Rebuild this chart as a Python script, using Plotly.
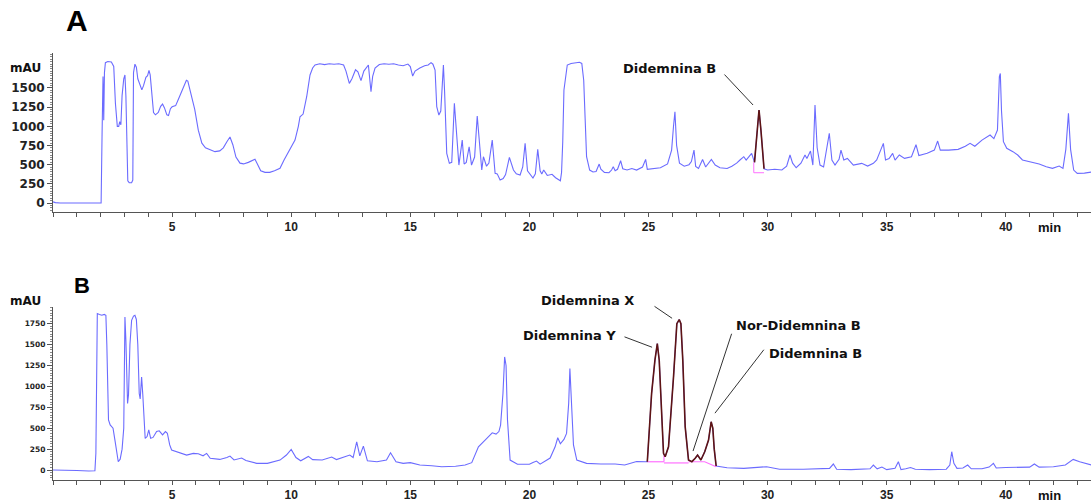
import plotly.graph_objects as go

# ---------------- data: chromatogram A (time [min], signal [mAU]) ----------------
time_A = [0, 0.1, 0.3, 2.0, 2.02, 2.06, 2.1, 2.13, 2.16, 2.2, 2.3, 2.45, 2.55, 2.62, 2.7, 2.76, 2.8, 2.85,
          2.9, 2.97, 3.02, 3.06, 3.1, 3.14, 3.2, 3.3, 3.35, 3.38, 3.44, 3.5, 3.56, 3.65, 3.73, 3.8, 3.9,
          3.97, 4.03, 4.08, 4.15, 4.22, 4.3, 4.42, 4.52, 4.6, 4.68, 4.78, 4.85, 4.93, 5.0, 5.15, 5.3,
          5.45, 5.6, 5.66, 5.8, 5.95, 6.1, 6.25, 6.4, 6.6, 6.8, 7.0, 7.15, 7.3, 7.43, 7.55, 7.68, 7.85,
          8.0, 8.2, 8.35, 8.48, 8.58, 8.72, 8.9, 9.1, 9.3, 9.53, 9.7, 9.81, 10.0, 10.16, 10.3, 10.37,
          10.5, 10.65, 10.79, 10.9, 11.0, 11.2, 11.4, 11.6, 11.8, 12.0, 12.2, 12.3, 12.44, 12.55, 12.7,
          12.8, 12.93, 13.05, 13.24, 13.3, 13.35, 13.42, 13.52, 13.7, 13.9, 14.1, 14.3, 14.5, 14.7,
          14.9, 15.0, 15.1, 15.2, 15.4, 15.6, 15.75, 15.87, 15.95, 16.04, 16.11, 16.2, 16.28, 16.34,
          16.39, 16.44, 16.53, 16.64, 16.74, 16.85, 16.94, 17.04, 17.18, 17.26, 17.35, 17.47, 17.57,
          17.7, 17.81, 17.93, 18.0, 18.07, 18.2, 18.3, 18.44, 18.56, 18.65, 18.77, 18.9, 19.0, 19.16,
          19.33, 19.45, 19.61, 19.72, 19.82, 19.92, 20.15, 20.25, 20.35, 20.45, 20.52, 20.6, 20.75,
          20.95, 21.1, 21.3, 21.35, 21.4, 21.45, 21.59, 21.75, 22.0, 22.1, 22.2, 22.28, 22.34, 22.4,
          22.53, 22.67, 22.8, 22.93, 23.0, 23.15, 23.34, 23.45, 23.52, 23.6, 23.7, 23.83, 23.92, 24.1,
          24.3, 24.5, 24.75, 24.88, 24.95, 25.2, 25.5, 25.8, 25.97, 26.05, 26.11, 26.18, 26.3, 26.5,
          26.7, 26.8, 26.91, 26.98, 27.1, 27.27, 27.4, 27.64, 27.8, 28.0, 28.3, 28.5, 28.7, 28.84,
          29.0, 29.1, 29.33, 29.45, 29.55, 29.64, 29.72, 29.85, 30.0, 30.3, 30.6, 30.8, 30.94, 31.05,
          31.2, 31.4, 31.57, 31.65, 31.8, 31.9, 31.99, 32.08, 32.2, 32.35, 32.59, 32.7, 32.83, 33.0,
          33.08, 33.2, 33.35, 33.6, 33.95, 34.2, 34.44, 34.58, 34.86, 34.95, 35.1, 35.25, 35.35, 35.53,
          35.75, 36.04, 36.23, 36.35, 36.7, 37.0, 37.14, 37.25, 37.6, 38.0, 38.3, 38.5, 38.7, 39.0,
          39.34, 39.5, 39.65, 39.73, 39.77, 39.82, 39.9, 40.04, 40.3, 40.5, 40.7, 41.0, 41.4, 41.7,
          41.96, 42.24, 42.4, 42.52, 42.63, 42.72, 42.85, 43.0, 43.3, 43.6]
signal_A = [15, 5, 0, 0, 0, 900, 1650, 1080, 1700, 1830, 1845, 1840, 1780, 1300, 1000, 1000, 1060, 1020,
            1400, 1620, 1670, 1400, 600, 290, 265, 265, 300, 1700, 1810, 1770, 1620, 1540, 1475, 1530, 1640,
            1660, 1730, 1670, 1400, 1180, 1150, 1180, 1260, 1290, 1240, 1150, 1140, 1230, 1255, 1270, 1380,
            1480, 1600, 1590, 1420, 1220, 950, 780, 720, 690, 670, 680, 720, 800, 860, 760, 600, 520,
            510, 530, 555, 570, 510, 420, 400, 400, 420, 452, 560, 626, 720, 821, 1000, 1125,
            1160, 1386, 1669, 1760, 1800, 1815, 1805, 1815, 1810, 1815, 1800, 1720, 1560, 1620, 1738,
            1710, 1595, 1720, 1800, 1650, 1451, 1650, 1760, 1805, 1815, 1810, 1815, 1800, 1790,
            1812, 1780, 1656, 1720, 1760, 1790, 1800, 1830, 1810, 1734, 1256, 1147, 1200, 1550,
            1799, 1450, 648, 517, 530, 1300, 864, 495, 821, 508, 530, 734, 495,
            600, 1134, 604, 430, 604, 480, 520, 821, 387, 380, 300, 320, 370, 596,
            430, 380, 365, 470, 778, 420, 326, 380, 700, 420, 378, 430, 360,
            375, 330, 290, 400, 800, 1473, 1799, 1820, 1830, 1835, 1820, 1600, 1100, 604,
            430, 404, 410, 508, 440, 400, 395, 430, 473, 420, 440, 552, 447, 430,
            450, 430, 470, 569, 440, 445, 460, 510, 691, 1000, 1190, 752, 520, 480,
            500, 540, 691, 478, 450, 567, 470, 569, 495, 460, 450, 480, 520, 561,
            604, 560, 648, 530, 850, 1213, 950, 447, 430, 440, 430, 480, 626, 520,
            460, 520, 626, 580, 678, 495, 1278, 720, 495, 470, 909, 560, 495, 570,
            691, 561, 582, 495, 517, 482, 517, 561, 778, 561, 580, 648, 560, 626,
            582, 604, 760, 620, 650, 690, 808, 690, 690, 700, 740, 778, 740, 820,
            887, 840, 951, 1647, 1690, 1200, 800, 713, 670, 626, 561, 540, 508, 473,
            452, 482, 452, 700, 1169, 700, 430, 387, 390, 404]

# ---------------- data: chromatogram B ----------------
time_B = [0, 0.5, 1.0, 1.5, 1.76, 1.8, 1.83, 1.86, 1.95, 2.05, 2.15, 2.22, 2.26, 2.29, 2.33, 2.4, 2.46,
          2.52, 2.6, 2.67, 2.74, 2.82, 2.9, 2.97, 3.0, 3.02, 3.06, 3.1, 3.13, 3.17, 3.23, 3.3, 3.38,
          3.44, 3.5, 3.56, 3.62, 3.66, 3.72, 3.77, 3.87, 3.95, 4.02, 4.1, 4.2, 4.35, 4.46, 4.6, 4.72,
          4.8, 4.9, 4.98, 5.2, 5.4, 5.61, 5.89, 6.1, 6.3, 6.45, 6.6, 7.0, 7.3, 7.43, 7.6, 7.92, 8.1,
          8.55, 9.0, 9.53, 9.8, 10.0, 10.2, 10.4, 10.72, 10.9, 11.3, 11.7, 11.9, 12.2, 12.46, 12.6,
          12.75, 12.88, 13.03, 13.2, 13.6, 14.0, 14.17, 14.4, 14.7, 15.0, 15.4, 15.9, 16.32, 16.9,
          17.3, 17.58, 17.86, 18.14, 18.3, 18.44, 18.6, 18.72, 18.79, 18.89, 18.96, 19.02, 19.08,
          19.19, 19.5, 20.0, 20.15, 20.3, 20.45, 20.87, 21.08, 21.19, 21.3, 21.45, 21.56, 21.65, 21.7,
          21.76, 21.85, 21.99, 22.4, 23.0, 23.6, 24.0, 24.5, 24.95, 25.05, 25.13, 25.27, 25.37, 25.45,
          25.52, 25.63, 25.7, 25.84, 26.05, 26.19, 26.29, 26.36, 26.44, 26.54, 26.68, 26.82, 26.96,
          27.06, 27.2, 27.36, 27.52, 27.63, 27.7, 27.76, 27.84, 28.3, 29.0, 29.96, 30.5, 31.5, 32.6,
          32.76, 32.9, 33.5, 34.3, 34.44, 34.6, 34.8, 35.0, 35.35, 35.49, 35.6, 35.8, 36.0, 36.2, 36.8,
          37.5, 37.65, 37.73, 37.82, 37.95, 38.2, 38.4, 38.55, 39.0, 39.3, 39.48, 39.6, 40.0, 40.5,
          41.0, 41.2, 41.4, 42.0, 42.5, 42.83, 43.1, 43.6]
signal_B = [0, 0, -5, -12, -8, 200, 1200, 1870, 1860, 1850, 1860, 1850, 1500, 900, 600, 540, 517,
            500, 358, 200, 99, 130, 250, 500, 1200, 1830, 1551, 1000, 796, 900, 1500, 1790, 1840,
            1850, 1800, 1500, 915, 850, 1113, 900, 378, 400, 480, 380, 390, 460, 469, 420, 460,
            440, 300, 239, 220, 200, 179, 199, 195, 170, 199, 140, 127, 150, 167, 120, 143, 115,
            80, 80, 119, 180, 247, 150, 111, 163, 125, 120, 155, 125, 150, 179, 150,
            338, 170, 286, 110, 100, 120, 207, 100, 80, 88, 60, 52, 40, 45,
            60, 88, 278, 358, 400, 445, 430, 460, 537, 915, 1352, 1250, 600,
            119, 70, 70, 90, 107, 70, 143, 278, 386, 314, 366, 438, 800, 1213,
            823, 300, 119, 80, 72, 72, 60, 103, 99, 500, 915, 1313, 1512, 1313,
            800, 199, 159, 278, 1113, 1750, 1798, 1750, 1313, 517, 119, 100, 140,
            179, 120, 219, 358, 577, 500, 250, 48, 28, 20, 40, 10, 10, 20,
            72, 10, 5, 15, 60, 15, 36, 5, 20, 99, 5, 15, 30, 10, 5,
            10, 60, 219, 80, 20, 25, 60, 15, 15, 35, 80, 25, 30, 30,
            35, 72, 35, 40, 60, 127, 100, 60]

# integrated peak windows (start, end) in minutes
peak_window_A = [29.45, 29.85]
peak_window_B = [24.95, 27.84]

# integration baselines (None separates segments)
base_time_A = [29.42, 29.42, None, 29.42, 29.85]
base_sig_A = [530, 395, None, 395, 395]
base_time_B = [24.95, 25.65, None, 25.65, 25.65, None, 25.65, 26.68, None, 26.68, 27.36, 27.84]
base_sig_B = [99, 99, None, 99, 170, None, 85, 85, None, 99, 99, 40]

# peak labels: text, label position (t, mAU), leader start (t, mAU), leader end (t, mAU)
labels_A = [("Didemnina B", 25.9, 1760, 28.13, 1695, 29.39, 1278)]
labels_B = [("Didemnina X", 22.42, 2029, 25.19, 1969, 25.99, 1814),
            ("Didemnina Y", 21.7, 1611, 23.93, 1599, 25.15, 1468),
            ("Nor-Didemnina B", 31.28, 1730, 28.51, 1647, 26.87, 227),
            ("Didemnina B", 32.03, 1396, 29.89, 1456, 27.79, 680)]

x_ticks = [5, 10, 15, 20, 25, 30, 35, 40]
y_ticks = [0, 250, 500, 750, 1000, 1250, 1500, 1750]

BLUE = "#6b6bff"
DARK = "#5e1414"
PINK = "#ff70ff"
AXC = "#555555"
LAB_FONT = "DejaVu Sans"
ARIAL = "Liberation Sans, Arial"


def window(ts, ys, w):
    xs, vs = [], []
    for t, v in zip(ts, ys):
        if w[0] <= t <= w[1]:
            xs.append(t)
            vs.append(v)
    return xs, vs


fig = go.Figure()
fig.add_trace(go.Scatter(x=time_A, y=signal_A, mode="lines", line=dict(color=BLUE, width=1.1),
                         xaxis="x", yaxis="y", showlegend=False))
px_, py_ = window(time_A, signal_A, peak_window_A)
fig.add_trace(go.Scatter(x=px_, y=py_, mode="lines", line=dict(color=DARK, width=1.6),
                         xaxis="x", yaxis="y", showlegend=False))
fig.add_trace(go.Scatter(x=base_time_A, y=base_sig_A, mode="lines", line=dict(color=PINK, width=1),
                         xaxis="x", yaxis="y", showlegend=False, connectgaps=False))

fig.add_trace(go.Scatter(x=time_B, y=signal_B, mode="lines", line=dict(color=BLUE, width=1.1),
                         xaxis="x2", yaxis="y2", showlegend=False))
fig.add_trace(go.Scatter(x=base_time_B, y=base_sig_B, mode="lines", line=dict(color=PINK, width=1.2),
                         xaxis="x2", yaxis="y2", showlegend=False, connectgaps=False))
px_, py_ = window(time_B, signal_B, peak_window_B)
fig.add_trace(go.Scatter(x=px_, y=py_, mode="lines", line=dict(color=DARK, width=1.6),
                         xaxis="x2", yaxis="y2", showlegend=False))

W, H, L = 1091, 503, 53
PW = W - L
x_range = [0, PW / 23.82]


def fy(py):
    return (H - py) / H


def fx(px):
    return (px - L) / PW


rng_A, dom_A = [-117, 1956], [fy(212), fy(53)]
rng_B, dom_B = [-119, 1949], [fy(480), fy(307)]


def xaxis(anchor):
    return dict(domain=[0, 1], range=x_range, anchor=anchor, showline=True, linecolor=AXC, linewidth=1,
                ticks="outside", ticklen=4, tickcolor=AXC, tickvals=x_ticks, showgrid=False, zeroline=False,
                tickfont=dict(family=ARIAL, size=12, color="#222", weight="bold"),
                minor=dict(dtick=1, tick0=0, ticks="outside", ticklen=4, tickcolor=AXC, showgrid=False))


def yaxis(anchor, rng, dom, size, vals):
    return dict(domain=dom, range=rng, anchor=anchor, showline=True, linecolor=AXC, linewidth=1,
                ticks="outside", ticklen=5, tickcolor=AXC, tickvals=vals, showgrid=False, zeroline=False,
                tickfont=dict(family=LAB_FONT, size=size, color="#222", weight="bold"),
                minor=dict(dtick=31.25, tick0=0, ticks="outside", ticklen=2, tickcolor="#888", showgrid=False))


fig.update_layout(
    width=W, height=H, margin=dict(l=L, r=0, t=0, b=0),
    paper_bgcolor="white", plot_bgcolor="white",
    xaxis=xaxis("y"), yaxis=yaxis("x", rng_A, dom_A, 12, y_ticks[:-1]),
    xaxis2=xaxis("y2"), yaxis2=yaxis("x2", rng_B, dom_B, 7.5, y_ticks),
)


def paper_y(v, rng, dom):
    return dom[0] + (v - rng[0]) / (rng[1] - rng[0]) * (dom[1] - dom[0])


def txt(text, x, y, font, xanchor="center"):
    return dict(text=text, x=x, y=y, xref="paper", yref="paper", xanchor=xanchor, yanchor="middle",
                showarrow=False, font=font)


ann = []
ann.append(txt("A", fx(77), fy(21), dict(family=ARIAL, size=30, color="#000", weight="bold")))
ann.append(txt("B", fx(82), fy(285), dict(family=ARIAL, size=22, color="#000", weight="bold")))
for yy in (68, 301):
    ann.append(txt("mAU", fx(43), fy(yy), dict(family=LAB_FONT, size=12, color="#111", weight="bold"),
                   xanchor="right"))
for yy in (227, 495):
    ann.append(txt("min", fx(1049), fy(yy), dict(family=ARIAL, size=13, color="#111", weight="bold")))

for labels, xr, yr, rng, dom in ((labels_A, "x", "y", rng_A, dom_A), (labels_B, "x2", "y2", rng_B, dom_B)):
    for text, tx, ty, sx, sy, ex, ey in labels:
        ann.append(dict(text=text, x=tx, y=paper_y(ty, rng, dom), xref=xr, yref="paper",
                        xanchor="center", yanchor="middle", showarrow=False,
                        font=dict(family=LAB_FONT, size=13, color="#111", weight="bold")))
        ann.append(dict(text="", x=ex, y=ey, xref=xr, yref=yr, ax=sx, ay=sy, axref=xr, ayref=yr,
                        showarrow=True, arrowhead=0, arrowwidth=1, arrowcolor="#333", standoff=0,
                        startstandoff=0))
fig.update_layout(annotations=ann)

fig.write_html("out.html")
